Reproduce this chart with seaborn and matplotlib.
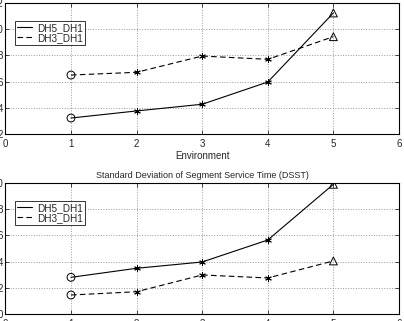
import matplotlib
import matplotlib.pyplot as plt
import numpy as np
import pandas as pd
import seaborn as sns

matplotlib.use("Agg")

env = [1, 2, 3, 4, 5]
mean_dh5 = [3.22, 3.76, 4.27, 5.97, 11.24]
mean_dh3 = [6.5, 6.71, 7.95, 7.7, 9.43]
std_dh5 = [2.8, 3.49, 3.97, 5.65, 9.9]
std_dh3 = [1.45, 1.7, 2.98, 2.75, 4.05]
point_kind = ["start", "mid", "mid", "mid", "end"]

sns.set_style("ticks")
plt.rcParams["font.family"] = ["Liberation Sans", "DejaVu Sans"]

fig = plt.figure(figsize=(4.04, 3.21), dpi=100)
ax_top = fig.add_axes([5.4 / 404, 1 - 134 / 321, 393.6 / 404, 131 / 321])
ax_bot = fig.add_axes([5.4 / 404, 1 - 314 / 321, 393.6 / 404, 131 / 321])


def draw(ax, dh5, dh3, ylim, title=None, xlabel=None):
    df = pd.DataFrame(
        {
            "env": env * 2,
            "val": dh5 + dh3,
            "series": ["DH5_DH1"] * 5 + ["DH3_DH1"] * 5,
            "kind": point_kind * 2,
        }
    )
    sns.lineplot(
        data=df, x="env", y="val", style="series",
        dashes={"DH5_DH1": "", "DH3_DH1": (5, 3)},
        color="black", linewidth=0.8, ax=ax,
    )
    for kind, mk, fc, size in [("start", "o", "none", 32), ("mid", (6, 2, 0), "black", 18), ("end", "^", "none", 32)]:
        sub = df[df["kind"] == kind]
        sns.scatterplot(
            data=sub, x="env", y="val", marker=mk, s=size,
            facecolors=fc, edgecolors="black", linewidth=0.7,
            color="black", ax=ax, legend=False, zorder=3,
        )
    ax.set_xlim(0, 6)
    ax.set_ylim(*ylim)
    ax.set_xticks(range(0, 7))
    ax.set_yticks(np.arange(ylim[0], ylim[1] + 1, 2))
    ax.tick_params(direction="in", top=True, right=True, labelsize=7, length=3, width=0.6)
    ax.tick_params(axis="y", pad=1.5)
    ax.grid(True, linestyle=":", color="#999999", linewidth=0.7)
    for sp in ax.spines.values():
        sp.set_linewidth(0.8)
        sp.set_color("black")
    ax.set_ylabel("")
    ax.set_xlabel(xlabel if xlabel else "", fontsize=7, labelpad=1.5)
    if title:
        ax.set_title(title, fontsize=6.5, pad=3.5)
    leg = ax.legend(
        loc="upper left", bbox_to_anchor=(0.024, 0.865), fontsize=7.2,
        frameon=True, fancybox=False, handlelength=1.5, borderpad=0.2,
        labelspacing=0.0, handletextpad=0.5, borderaxespad=0,
    )
    leg.get_frame().set_edgecolor("black")
    leg.get_frame().set_linewidth(0.7)


draw(ax_top, mean_dh5, mean_dh3, (2, 12), xlabel="Environment")
draw(ax_bot, std_dh5, std_dh3, (0, 10),
     title="Standard Deviation of Segment Service Time (DSST)")

fig.savefig("out.png", dpi=100)
